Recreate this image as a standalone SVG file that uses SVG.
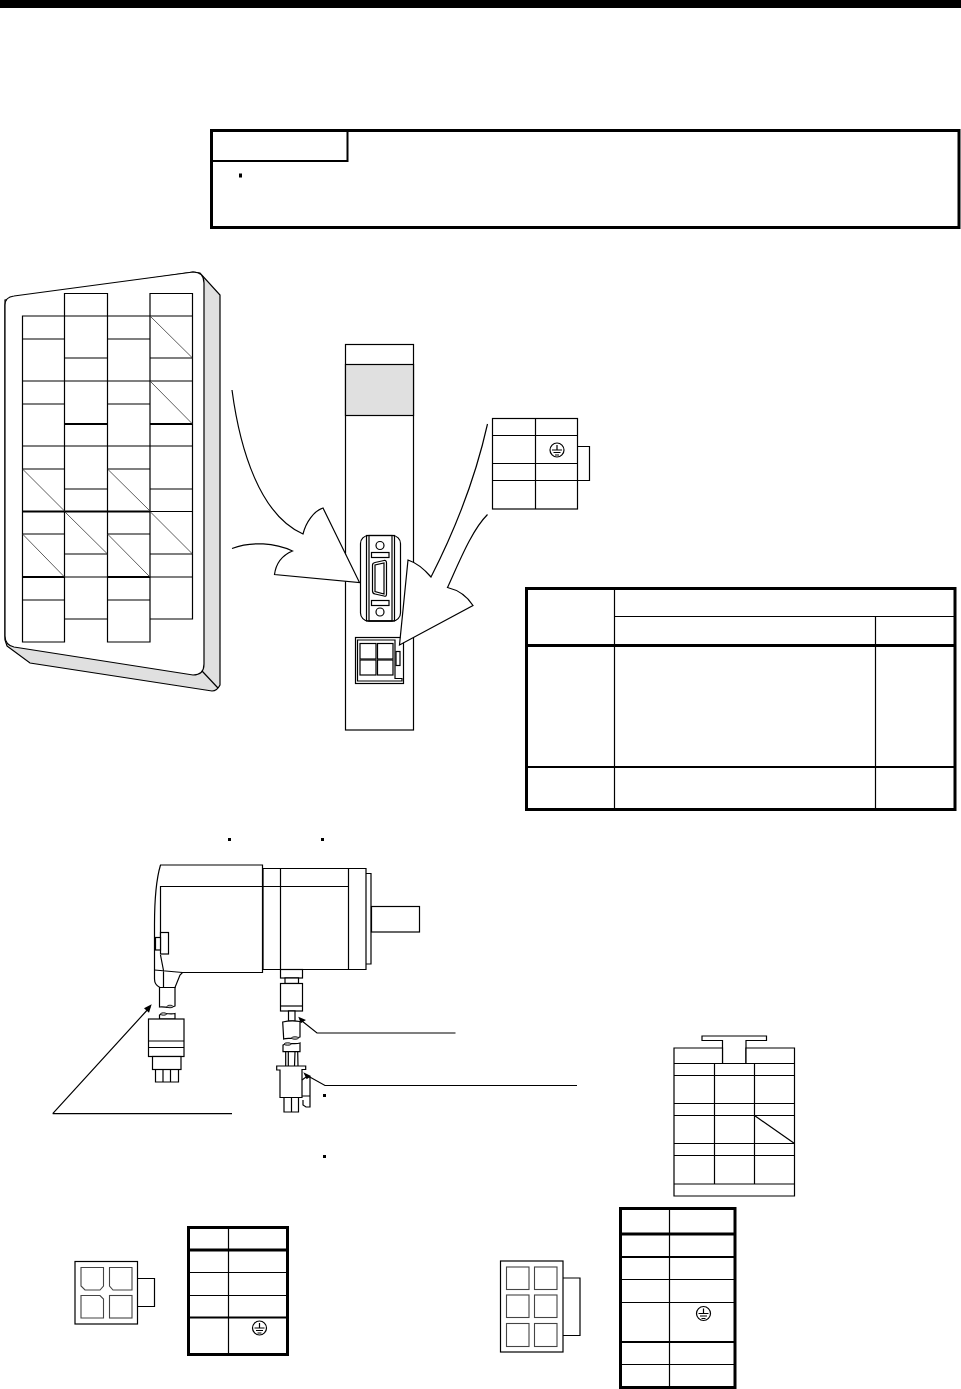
<svg xmlns="http://www.w3.org/2000/svg" width="961" height="1389" viewBox="0 0 961 1389">
<style>
.l{fill:none;stroke:#000;stroke-width:1.2}
.w{fill:#fff;stroke:#000;stroke-width:1.2}
.g{fill:#e0e0e0;stroke:#000;stroke-width:1.2}
.t2{fill:none;stroke:#000;stroke-width:2}
.t3{fill:none;stroke:#000;stroke-width:3}
.c{fill:#fff;stroke:#444;stroke-width:1.1}
.d{fill:none;stroke:#333;stroke-width:.8}
.e{fill:#bbb;stroke:#000;stroke-width:.8}
.a{fill:#000;stroke:none}
</style>
<defs>
<g id="gnd"><circle r="7" class="w"/><path class="l" d="M0,-5V0M-5,0H5M-3.500,2.500H3.500M-2,5H2"/></g>
</defs>
<rect width="961" height="8" fill="#000"/>

<g id="notice">
<rect x="211.500" y="130.500" width="747.500" height="97" class="t3"/>
<path class="t2" d="M347.500,130.500V161H211.500"/>
<rect x="239" y="173.500" width="3" height="4" fill="#000"/>
</g>

<g id="keypad">
<path class="g" d="M7,646L30,663L212,691Q217,691 220,685L220,295L200,273L193,272L5,300V640Z"/>
<path class="w" d="M14,296L193,272Q204,272 204,283V664Q204,675 193,675L14,647Q5,645 5,636V305Q5,297 14,296Z"/>
<path class="l" d="M202,671L218,688"/>
<path class="l" d="M22.500,316H64.500V642H22.500ZM107.500,316H150V642H107.500ZM64.500,293.500H107.500V619H64.500ZM150,293.500H192.500V619H150Z"/>
<path class="l" d="M22.500,339H64.500M22.500,381H64.500M22.500,404H64.500M22.500,446H64.500M22.500,469H64.500M22.500,534H64.500M22.500,600H64.500M107.500,339H150M107.500,381H150M107.500,404H150M107.500,446H150M107.500,469H150M107.500,534H150M107.500,600H150"/>
<path class="l" d="M64.500,316H107.500M64.500,358H107.500M64.500,381H107.500M64.500,446H107.500M64.500,489H107.500M64.500,554H107.500M64.500,577H107.500M150,316H192.500M150,358H192.500M150,381H192.500M150,446H192.500M150,489H192.500M150,511.500H192.500M150,554H192.500M150,577H192.500"/>
<path class="t2" d="M64.500,424H107.500M150,424H192.500M22.500,511.500H150M22.500,577H64.500M107.500,577H150"/>
<path class="d" d="M150,316L192.500,358M150,381L192.500,424M22.500,469L64.500,511M107.500,469L150,511M64.500,511.500L107.500,554M150,511.500L192.500,554M22.500,534L64.500,577M107.500,534L150,577"/>
</g>

<g id="amp">
<rect x="345.500" y="344.500" width="68" height="385.500" class="w"/>
<rect x="345.500" y="364.500" width="68" height="51" class="g"/>
</g>

<g id="cn-large">
<rect x="360.500" y="535.500" width="40" height="85.500" rx="8" class="w"/>
<rect x="366.500" y="535.500" width="28" height="85.500" class="l"/>
<rect x="369" y="535.500" width="23" height="85.500" class="l"/>
<circle cx="380" cy="545.500" r="4" class="l"/>
<circle cx="380" cy="612" r="4" class="l"/>
<rect x="371.500" y="552.500" width="17.500" height="5" class="l"/>
<rect x="371.500" y="600.500" width="17.500" height="5" class="l"/>
<path class="l" d="M372.500,565Q372.500,563 375,562.500L384,560.500Q386.500,560 386.500,563V594Q386.500,597 384,596L375,594Q372.500,593.500 372.500,591Z"/>
<path class="l" d="M375,565V591.500L384,594V563Z"/>
</g>

<g id="cn-small">
<rect x="355.500" y="637.500" width="48" height="46" class="w"/>
<path class="l" d="M357.500,640H395V678.500H402V681H357.500Z"/>
<rect x="360" y="643.500" width="16" height="15.500" class="l"/>
<rect x="377.500" y="643.500" width="15.500" height="15.500" class="l"/>
<rect x="360" y="660" width="16" height="15" class="l"/>
<rect x="377.500" y="660" width="15.500" height="15" class="l"/>
<rect x="396" y="651.500" width="4" height="14" class="l"/>
</g>

<g id="connectors">
<path class="w" d="M232,390C240,450 260,515 303,534C306,522 314,511 323,508L359.500,582.500L274.500,574.500C276,563 283,555 292.500,551C275,543 252,541 232,548.500"/>
<path class="w" d="M487.500,424C475,480 455,530 431,577C425,570 417,563 408,560L399.500,645L473,605.500C467,596 458,590 447.500,587.500C460,560 472,530 487.500,514.500"/>
<path class="l" d="M52.700,1113.700H232M52.700,1113.700L150,1007"/>
<path class="a" d="M151.700,1004.300L144,1008.300L149,1012.700Z"/>
<path class="l" d="M455.500,1033H317L302,1021"/>
<path class="a" d="M298.300,1016.700L306,1020L300.700,1023.300Z"/>
<path class="l" d="M577,1085.500H325L308,1076"/>
<path class="a" d="M303.300,1072.300L311,1076L306.700,1079.300Z"/>
</g>

<g id="pin-top">
<path class="w" d="M577.500,446.500H589.500V480.500H577.500"/>
<rect x="492.500" y="418.500" width="85" height="90.500" class="w"/>
<path class="l" d="M535.500,418.500V509M492.500,435.500H577.500M492.500,463.500H577.500M492.500,480.500H577.500"/>
<use href="#gnd" x="557" y="450"/>
</g>

<g id="table-main">
<path class="t3" d="M526.500,588.500H955V809.500H526.500Z"/>
<path class="t3" d="M526.500,645.500H955"/>
<path class="t2" d="M526.500,767H955"/>
<path class="l" d="M614.500,588.500V809.500M614.500,616.500H955M875.500,616.500V809.500"/>
</g>

<g id="motor">
<path class="w" d="M263,868.500H366V969.500H263Z"/>
<path class="l" d="M280.500,868.500V969.500M348.500,868.500V969.500"/>
<path class="l" d="M366,873.500H371V964H366"/>
<rect x="371.500" y="906.500" width="48" height="25.500" class="w"/>
<path class="w" d="M160.500,865H262.500V972.500H182.500L180,975L175,987.500H160Q154.500,985 154.500,979V925Q154.500,885 160.500,865Z"/>
<path class="l" d="M348.500,886.500H160.500V937M160.500,955L163.500,970.500M154.500,970L182.500,972.500M163.500,970.500V987.500"/>
<rect x="160.500" y="932.500" width="8" height="21.500" class="w"/>
<rect x="155.500" y="937.500" width="5" height="12.500" class="w"/>
<rect x="280.500" y="969.500" width="22" height="8.500" class="w"/>
<rect x="285" y="978" width="13.500" height="5.500" class="w"/>
<rect x="280.500" y="983.500" width="22" height="27.500" class="w"/>
<path class="l" d="M280.500,1006H302.500"/>
<rect x="288.500" y="1011" width="6.500" height="10" class="w"/>
</g>

<g id="encoder-cable">
<path class="w" d="M159.500,987.500H175V1006C170,1009 164,1006 159.500,1007Z"/>
<ellipse cx="170" cy="1006.500" rx="3" ry="1.300" class="e"/>
<path class="w" d="M159.500,1019V1015C164,1012 170,1015 175,1013.500V1019Z"/>
<ellipse cx="163.500" cy="1014" rx="3" ry="1.300" class="e"/>
<rect x="148.500" y="1019" width="35.500" height="37.500" class="w"/>
<path class="l" d="M148.500,1041H184M148.500,1047.500H184"/>
<rect x="152.500" y="1056.500" width="28.500" height="13" class="w"/>
<path class="l" d="M155.500,1069.500V1082H178.500V1069.500M163,1069.500V1082M170.500,1069.500V1082"/>
</g>

<g id="power-cable">
<path class="w" d="M282.700,1022Q291,1020 300,1021.500V1037C294,1040 288,1037 283.700,1039Z"/>
<ellipse cx="295" cy="1038" rx="3.500" ry="1.300" class="e"/>
<path class="w" d="M283,1045C288,1042 295,1045 300,1043V1051.700H283Z"/>
<ellipse cx="287.700" cy="1044" rx="3.500" ry="1.300" class="e"/>
<path class="l" d="M285.700,1052V1066M288.300,1052V1066M295,1052L294.500,1066M297.700,1052L298,1066"/>
<path class="w" d="M276.700,1066H305.700V1069.500H302V1097.500H280V1070H276.700Z"/>
<path class="l" d="M284,1097.500V1112H298.500V1097.500M291.500,1097.500V1112"/>
<path class="l" d="M302,1080L306,1077H310V1096H302M303,1100V1105L306,1107H310V1096"/>
<rect x="323" y="1094" width="3" height="3" fill="#000"/>
<rect x="323" y="1155" width="3" height="3" fill="#000"/>
<rect x="228" y="838" width="3" height="3" fill="#000"/>
<rect x="321" y="838" width="3" height="3" fill="#000"/>
</g>

<g id="cn-four">
<path class="w" d="M137.500,1278.500H154.500V1306.500H137.500"/>
<rect x="75" y="1261.500" width="62.500" height="62.500" class="w"/>
<path class="c" d="M81,1267.500H103.500V1286L100,1290H85L81,1286Z"/>
<path class="c" d="M109.500,1267.500H132V1290H113L109.500,1286Z"/>
<path class="c" d="M81,1295.500H100L103.500,1299V1318H81Z"/>
<rect x="109.500" y="1295.500" width="22.500" height="22.500" class="c"/>
</g>

<g id="table-four">
<rect x="188.500" y="1227.500" width="99" height="127" class="t3"/>
<path class="t3" d="M188.500,1250H287.500"/>
<path class="t2" d="M188.500,1317.500H287.500"/>
<path class="l" d="M228.500,1227.500V1354.500M188.500,1272.500H287.500M188.500,1295.500H287.500"/>
<use href="#gnd" x="259.500" y="1328"/>
</g>

<g id="cn-six">
<path class="w" d="M563,1278H580V1335.500H563"/>
<rect x="500.500" y="1261" width="62.500" height="91" class="w"/>
<rect x="506.500" y="1267" width="22.500" height="22.500" class="c"/>
<rect x="534.500" y="1267" width="22.500" height="22.500" class="c"/>
<rect x="506.500" y="1295" width="22.500" height="22.500" class="c"/>
<rect x="534.500" y="1295" width="22.500" height="22.500" class="c"/>
<rect x="506.500" y="1323.500" width="22.500" height="23" class="c"/>
<rect x="534.500" y="1323.500" width="22.500" height="23" class="c"/>
</g>

<g id="table-six">
<rect x="620.500" y="1208.500" width="114.500" height="179" class="t3"/>
<path class="t3" d="M620.500,1234H735"/>
<path class="t2" d="M620.500,1257H735M620.500,1342H735"/>
<path class="l" d="M669.500,1208.500V1387.500M620.500,1279.500H735M620.500,1302.500H735M620.500,1364.500H735"/>
<use href="#gnd" x="703.500" y="1313.500"/>
</g>

<g id="face-right">
<path class="w" d="M702,1036H766.500V1040.500H746V1063.500H722.500V1040.500H702Z"/>
<path class="w" d="M674,1048H722.500V1063.500H746V1048H794.500V1196H674Z"/>
<path class="l" d="M674,1063.500H794.500M674,1075.500H794.500M674,1103.500H794.500M674,1115.500H794.500M674,1143.500H794.500M674,1155.500H794.500M674,1184H794.500"/>
<path class="l" d="M714.500,1063.500V1184M754.500,1063.500V1184M754.500,1115.500L794.500,1143.500"/>
</g>
</svg>
